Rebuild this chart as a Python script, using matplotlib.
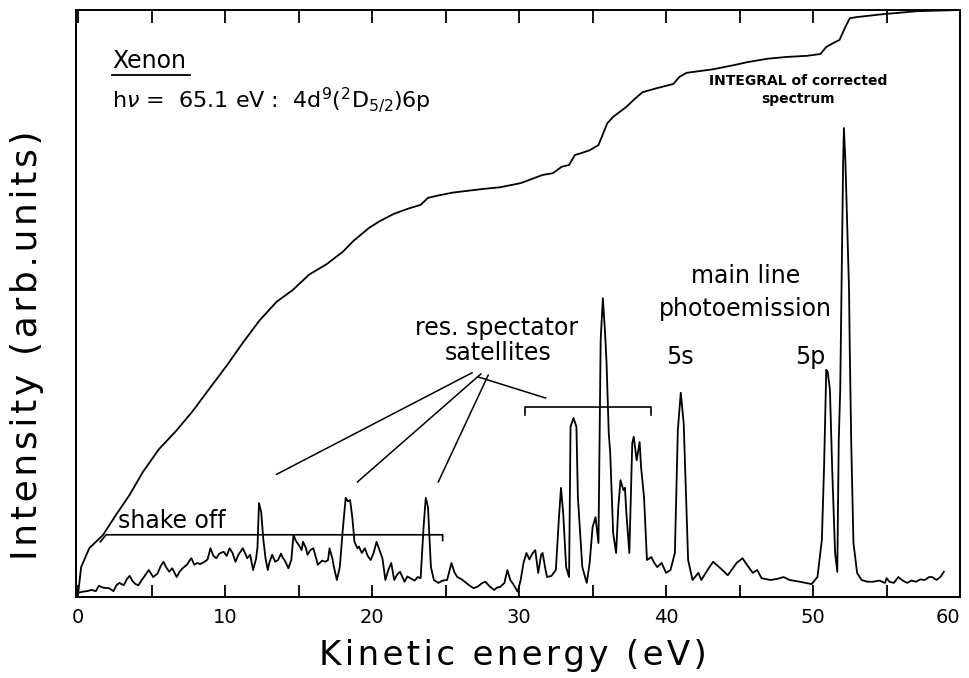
import matplotlib
matplotlib.use("Agg")
import matplotlib.pyplot as plt

# ---------------- data ----------------
energy = [0.0, 0.3, 0.6, 0.9, 1.2, 1.4, 1.7, 2.1, 2.4, 2.6, 2.8, 3.1, 3.3, 3.5, 3.7, 3.9,
          4.1, 4.3, 4.5, 4.8, 5.0, 5.1, 5.4, 5.6, 5.8, 6.0, 6.2, 6.4, 6.7, 6.9, 7.1, 7.4,
          7.6, 7.7, 7.9, 8.1, 8.3, 8.6, 8.8, 9.0, 9.2, 9.4, 9.6, 9.9, 10.1, 10.3, 10.5,
          10.7, 10.9, 11.2, 11.4, 11.5, 11.7, 11.9, 12.1, 12.2, 12.3, 12.45, 12.6, 12.75,
          12.9, 13.0, 13.2, 13.4, 13.6, 13.8, 13.9, 14.1, 14.3, 14.5, 14.65, 14.8, 15.0,
          15.2, 15.3, 15.5, 15.6, 15.8, 16.0, 16.2, 16.3, 16.6, 16.8, 17.0, 17.1, 17.3,
          17.4, 17.6, 17.8, 18.0, 18.2, 18.35, 18.5, 18.65, 18.8, 19.0, 19.1, 19.3, 19.5,
          19.7, 19.9, 20.1, 20.3, 20.5, 20.7, 20.9, 21.1, 21.3, 21.5, 21.7, 21.9, 22.2,
          22.4, 22.6, 22.9, 23.1, 23.3, 23.5, 23.65, 23.8, 24.0, 24.2, 24.5, 24.8, 25.1,
          25.4, 25.6, 25.8, 26.1, 26.3, 26.6, 26.9, 27.2, 27.5, 27.7, 28.0, 28.3, 28.5,
          28.7, 29.0, 29.2, 29.4, 29.6, 29.9, 30.1, 30.3, 30.5, 30.7, 30.9, 31.1, 31.3,
          31.5, 31.6, 31.8, 31.9, 32.2, 32.5, 32.7, 32.85, 33.0, 33.2, 33.4, 33.5, 33.7,
          33.9, 34.0, 34.3, 34.6, 34.8, 35.0, 35.2, 35.4, 35.55, 35.7, 35.85, 35.95, 36.1,
          36.2, 36.4, 36.6, 36.75, 36.9, 37.1, 37.2, 37.3, 37.5, 37.7, 37.8, 38.0, 38.2,
          38.3, 38.5, 38.7, 39.0, 39.2, 39.4, 39.7, 40.0, 40.3, 40.6, 40.8, 41.0, 41.2,
          41.4, 41.5, 41.8, 42.2, 42.4, 42.9, 43.2, 43.7, 44.2, 44.8, 45.2, 45.5, 45.9,
          46.2, 46.5, 47.1, 47.6, 48.0, 48.4, 49.1, 49.9, 50.3, 50.6, 50.75, 50.9, 51.0,
          51.15, 51.3, 51.5, 51.65, 51.75, 51.85, 51.95, 52.05, 52.1, 52.2, 52.45, 52.5,
          52.6, 52.75, 53.0, 53.3, 53.7, 54.1, 54.5, 54.9, 55.0, 55.2, 55.5, 55.8, 56.1,
          56.4, 56.7, 57.0, 57.3, 57.6, 57.9, 58.1, 58.4, 58.7, 58.9]
intensity = [0.7, 0.9, 1.0, 1.2, 1.0, 1.9, 1.6, 1.5, 1.0, 2.0, 2.4, 2.0, 3.0, 3.6, 2.7, 2.2,
             2.0, 2.8, 3.5, 4.6, 3.8, 3.4, 4.0, 5.2, 6.0, 5.0, 4.3, 4.9, 3.4, 4.3, 4.9, 5.5,
             6.3, 6.6, 5.5, 5.8, 5.6, 6.0, 6.4, 8.3, 7.0, 6.6, 7.4, 7.7, 7.0, 8.3, 7.5,
             6.0, 7.2, 8.3, 7.2, 6.6, 7.2, 4.6, 6.5, 8.5, 16.0, 14.5, 9.7, 6.5,
             4.6, 5.8, 7.2, 6.0, 6.3, 7.4, 6.8, 6.0, 4.9, 6.3, 10.6, 9.6, 8.9,
             8.0, 9.4, 8.3, 7.2, 8.0, 8.3, 6.5, 5.5, 6.2, 6.0, 6.3, 8.3, 6.5,
             5.1, 2.9, 5.1, 11.4, 16.9, 16.3, 16.5, 13.6, 9.4, 8.3, 8.6, 7.5, 8.3,
             7.0, 6.3, 7.5, 9.4, 8.0, 6.6, 2.9, 4.6, 5.8, 2.9, 3.8, 4.3, 2.6,
             3.5, 3.2, 2.8, 3.4, 3.2, 11.9, 16.9, 15.3, 5.1, 2.9, 2.4, 2.8, 2.9,
             5.8, 4.2, 3.4, 3.0, 2.6, 2.0, 1.5, 1.8, 2.4, 2.6, 1.8, 1.2, 1.6,
             1.7, 2.4, 4.6, 2.9, 2.2, 0.9, 2.8, 5.8, 7.5, 6.4, 7.4, 8.0, 4.1,
             7.2, 7.5, 4.6, 3.4, 3.6, 4.6, 13.1, 18.6, 14.3, 5.1, 3.4, 29.0, 30.5,
             29.0, 17.0, 5.1, 2.4, 5.8, 11.9, 13.6, 9.2, 43.8, 50.9, 45.0, 39.9, 27.9,
             24.5, 10.9, 7.5, 15.3, 19.9, 18.2, 18.6, 14.3, 7.5, 26.2, 27.3, 23.3, 26.4,
             22.1, 17.0, 6.3, 6.8, 5.8, 5.1, 5.8, 4.1, 4.6, 7.5, 28.4, 34.8, 29.6,
             14.3, 6.3, 2.9, 4.1, 2.9, 4.9, 6.0, 4.9, 3.7, 5.8, 6.6, 5.5, 4.1,
             4.6, 3.2, 2.9, 3.1, 3.4, 2.9, 2.6, 2.2, 3.4, 9.7, 22.1, 38.7, 38.3,
             35.3, 22.1, 7.5, 4.3, 26.7, 35.3, 54.5, 74.4, 79.9, 74.4, 52.3, 42.1,
             26.2, 9.2, 4.1, 2.9, 2.6, 2.6, 2.8, 2.4, 3.2, 2.6, 2.4, 3.4, 2.8,
             2.4, 2.8, 2.6, 3.0, 2.9, 3.4, 3.4, 2.9, 3.5, 4.3]

integral_energy = [0.0, 0.2, 0.75, 1.7, 2.6, 3.5, 4.4, 5.5, 6.7, 7.8, 8.9, 10.1, 11.2, 12.3,
                   13.5, 14.6, 15.7, 16.9, 18.0, 18.7, 19.8, 20.5, 21.5, 22.5, 23.3, 23.8,
                   24.5, 25.5, 26.5, 27.5, 28.7, 30.1, 31.6, 32.3, 32.9, 33.4, 33.8, 34.2,
                   34.8, 35.4, 36.0, 36.4, 37.3, 37.8, 38.4, 39.4, 40.5, 40.9, 41.4, 42.3,
                   43.2, 44.6, 45.5, 46.9, 48.2, 49.6, 50.5, 50.9, 51.4, 51.8, 52.2, 52.5,
                   53.0, 54.8, 57.1, 60.0]
integral_value = [0.7, 5.1, 8.3, 10.6, 14.1, 17.4, 21.3, 25.2, 28.4, 31.7, 35.4, 39.4, 43.3,
                  47.0, 50.3, 52.3, 54.9, 56.7, 58.8, 60.6, 62.9, 64.0, 65.3, 66.2, 66.8,
                  68.0, 68.4, 68.9, 69.2, 69.5, 69.8, 70.5, 71.9, 72.2, 73.3, 73.6, 75.3,
                  75.6, 76.1, 77.0, 80.7, 81.8, 83.5, 84.7, 86.0, 86.7, 87.4, 88.6, 89.3,
                  89.6, 89.9, 90.6, 91.1, 91.7, 92.0, 92.2, 92.5, 93.7, 94.4, 94.9, 97.1,
                  98.6, 98.8, 99.3, 99.8, 100.0]

x_ticks_major = [0, 10, 20, 30, 40, 50, 60]
x_ticks_minor = [5, 15, 25, 35, 45, 55]

HS = "\u200a"  # hair space for the wide letter spacing of the original lettering


def spaced(s):
    return HS.join(s)


# ---------------- figure ----------------
fig = plt.figure(figsize=(9.69, 6.78), dpi=100)
ax = fig.add_axes([76 / 969, 81 / 678, 884 / 969, 587 / 678])
ax.set_xlim(-0.15, 60.0)
ax.set_ylim(0, 100)

lw = 1.3
ax.plot(energy, intensity, color="black", lw=lw)
ax.plot(integral_energy, integral_value, color="black", lw=lw)

for s in ax.spines.values():
    s.set_linewidth(1.4)

ax.set_xticks(x_ticks_major)
ax.set_xticks(x_ticks_minor, minor=True)
labels = ax.set_xticklabels([str(t) for t in x_ticks_major])
labels[-1].set_horizontalalignment("right")
ax.tick_params(axis="x", which="both", direction="in", top=True, bottom=True,
               length=9, width=1.3, labelsize=14, pad=8)
ax.set_yticks([])

# annotations
ax.text(2.3, 91.3, "Xenon", fontsize=17, va="center", ha="left")
ax.plot([2.31, 7.62], [88.9, 88.9], color="black", lw=1.3)
ax.text(2.3, 84.6, r"h$\nu$ =  65.1 eV :  4d$^{9}$($^{2}$D$_{5/2}$)6p",
        fontsize=16, va="center", ha="left")
ax.text(49.0, 86.3, "INTEGRAL of corrected\nspectrum", fontsize=10, fontweight="bold",
        ha="center", va="center", linespacing=1.35)
ax.text(45.4, 54.7, "main line", fontsize=17, ha="center", va="center")
ax.text(45.4, 49.1, "photoemission", fontsize=17, ha="center", va="center")
ax.text(40.95, 40.9, "5s", fontsize=17, ha="center", va="center")
ax.text(49.8, 40.9, "5p", fontsize=17, ha="center", va="center")
ax.text(28.5, 45.8, "res. spectator", fontsize=17, ha="center", va="center")
ax.text(28.6, 41.6, "satellites", fontsize=17, ha="center", va="center")
ax.text(6.4, 12.9, "shake off", fontsize=17, ha="center", va="center")

# leader lines
ax.plot([26.8, 13.5], [38.2, 20.9], color="black", lw=1.1)
ax.plot([27.4, 19.0], [38.0, 19.6], color="black", lw=1.1)
ax.plot([27.9, 24.5], [37.8, 19.6], color="black", lw=1.1)
ax.plot([27.2, 31.8], [37.5, 33.9], color="black", lw=1.1)

# brackets
ax.plot([30.4, 30.4, 39.0, 39.0], [31.0, 32.4, 32.4, 31.0], color="black", lw=1.2)
ax.plot([1.5, 1.9, 24.8, 24.8], [9.4, 10.6, 10.6, 9.6], color="black", lw=1.2)

fig.text(513 / 969, 1 - 656 / 678, spaced("Kinetic energy (eV)"), fontsize=24.5,
         ha="center", va="center")
fig.text(27 / 969, 1 - 345 / 678, spaced("Intensity (arb.units)"), fontsize=26,
         ha="center", va="center", rotation=90)

fig.savefig("out.png", dpi=100)
